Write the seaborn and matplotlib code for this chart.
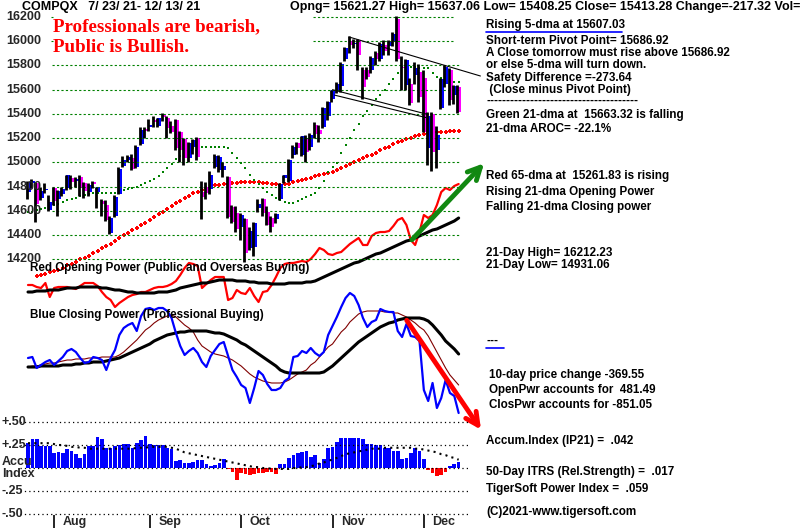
import numpy as np
import pandas as pd
import matplotlib
matplotlib.use("Agg")
import matplotlib.pyplot as plt
from matplotlib.lines import Line2D
import seaborn as sns

# ---- daily data (7/23/21 - 12/13/21, 100 sessions) ----
opens = [14760, 14830, 14830, 14705, 14770, 14610, 14790, 14700, 14740, 14790,
         14870, 14845, 14880, 14830, 14760, 14835, 14760, 14680, 14650, 14420,
         14560, 14740, 14970, 15020, 15040, 14960, 15150, 15270, 15290, 15350,
         15300, 15380, 15370, 15300, 15350, 15250, 15190, 15040, 15130, 15200,
         14760, 14800, 14780, 14960, 14940, 14940, 14880, 14630, 14580, 14470,
         14530, 14290, 14300, 14620, 14700, 14590, 14540, 14530, 14700, 14870,
         14850, 15060, 15160, 15060, 15200, 15130, 15310, 15270, 15290, 15380,
         15520, 15590, 15630, 15850, 16000, 15975, 16010, 15760, 15760, 15760,
         15900, 15850, 15970, 15960, 16000, 16180, 15790, 15640, 15650, 15720,
         15750, 15700, 15120, 15400, 15100, 15450, 15650, 15760, 15560, 15621]
highs = [14845, 14860, 14835, 14800, 14830, 14730, 14800, 14770, 14800, 14900,
         14900, 14880, 14900, 14840, 14830, 14850, 14800, 14700, 14690, 14560,
         14730, 14960, 15050, 15060, 15070, 15140, 15290, 15290, 15360, 15380,
         15370, 15405, 15380, 15340, 15360, 15260, 15200, 15170, 15190, 15210,
         14850, 14840, 14930, 15070, 15060, 15000, 14890, 14650, 14640, 14580,
         14540, 14470, 14510, 14700, 14710, 14640, 14560, 14580, 14830, 14900,
         15030, 15140, 15170, 15220, 15230, 15240, 15330, 15310, 15460, 15510,
         15600, 15660, 15830, 15950, 16040, 16020, 16020, 15790, 15790, 15880,
         15920, 15990, 16010, 16010, 16080, 16212, 15880, 15850, 15700, 15830,
         15810, 15760, 15420, 15420, 15300, 15700, 15800, 15780, 15640, 15637]
lows = [14700, 14790, 14510, 14690, 14750, 14600, 14650, 14560, 14720, 14770,
        14780, 14800, 14720, 14710, 14720, 14790, 14620, 14560, 14520, 14410,
        14550, 14740, 14960, 15000, 14940, 14950, 15140, 15200, 15260, 15290,
        15290, 15340, 15200, 15240, 15100, 15000, 14980, 15000, 15070, 15020,
        14530, 14700, 14740, 14950, 14920, 14880, 14540, 14500, 14430, 14360,
        14180, 14280, 14230, 14590, 14560, 14480, 14430, 14500, 14690, 14830,
        14840, 15040, 15070, 15050, 15000, 15100, 15200, 15170, 15280, 15350,
        15500, 15570, 15580, 15840, 15900, 15940, 15760, 15520, 15690, 15740,
        15800, 15840, 15890, 15890, 15960, 15840, 15600, 15600, 15470, 15650,
        15500, 15250, 14980, 14931, 14950, 15440, 15620, 15470, 15480, 15408]
closes = [14837, 14841, 14661, 14763, 14778, 14673, 14681, 14761, 14780, 14895,
          14836, 14860, 14788, 14765, 14816, 14823, 14794, 14656, 14526, 14542,
          14715, 14943, 15020, 15042, 14946, 15130, 15266, 15259, 15309, 15331,
          15364, 15374, 15287, 15248, 15115, 15106, 15038, 15162, 15182, 15044,
          14714, 14746, 14897, 15052, 15048, 14970, 14547, 14512, 14449, 14567,
          14255, 14434, 14502, 14654, 14580, 14486, 14466, 14572, 14823, 14897,
          15022, 15129, 15122, 15216, 15090, 15227, 15236, 15236, 15448, 15498,
          15596, 15650, 15812, 15940, 15972, 15982, 15887, 15623, 15704, 15861,
          15854, 15974, 15922, 15994, 16057, 15855, 15775, 15845, 15492, 15783,
          15538, 15254, 15381, 15085, 15225, 15687, 15787, 15517, 15631, 15413]
ma21 = [14590, 14595, 14605, 14615, 14625, 14635, 14650, 14660, 14675, 14690,
        14700, 14710, 14720, 14730, 14740, 14745, 14750, 14750, 14748, 14745,
        14750, 14760, 14770, 14780, 14790, 14800, 14815, 14830, 14845, 14865,
        14885, 14920, 14955, 14990, 15030, 15055, 15080, 15100, 15115, 15125,
        15130, 15130, 15130, 15130, 15130, 15130, 15120, 15080, 15040, 14995,
        14950, 14900, 14855, 14820, 14790, 14760, 14730, 14705, 14690, 14675,
        14665, 14665, 14680, 14700, 14715, 14730, 14745, 14790, 14850, 14920,
        14960, 14995, 15080, 15140, 15200, 15270, 15320, 15380, 15425, 15475,
        15520, 15555, 15600, 15645, 15690, 15740, 15790, 15795, 15790, 15785,
        15780, 15780, 15775, 15740, 15705, 15695, 15685, 15675, 15665, 15660]
ma65 = [np.nan, np.nan, 14060, 14070, 14080, 14095, 14105, 14115, 14130, 14150,
        14165, 14180, 14200, 14215, 14230, 14250, 14270, 14290, 14310, 14330,
        14350, 14375, 14400, 14420, 14440, 14460, 14480, 14500, 14525, 14550,
        14575, 14595, 14615, 14640, 14665, 14685, 14705, 14725, 14745, 14760,
        14775, 14790, 14800, 14810, 14815, 14820, 14825, 14830, 14830, 14835,
        14835, 14835, 14835, 14835, 14830, 14830, 14825, 14820, 14815, 14820,
        14825, 14835, 14845, 14855, 14865, 14875, 14885, 14895, 14905, 14915,
        14925, 14940, 14955, 14970, 14985, 15000, 15020, 15035, 15050, 15065,
        15080, 15100, 15115, 15130, 15150, 15165, 15180, 15195, 15205, 15215,
        15225, 15235, 15240, 15245, 15250, 15252, 15255, 15257, 15259, 15262]
open_power = [15, 15, 13, 12, 17, 3, 12, 13, 13, 13,
              12, 11, 14, 17, 17, 17, 14, 8, 3, 0,
              -7, -3, 0, 3, 5, 6, 8, 8, 10, 12,
              13, 13, 14, 16, 19, 25, 32, 37, 36, 34,
              12, 16, 20, 23, 23, 23, 0, 2, 10, 7,
              6, 12, 4, -2, 8, 9, 15, 23, 32, 36,
              37, 37, 38, 39, 38, 41, 46, 52, 50, 46,
              45, 47, 48, 52, 56, 59, 62, 55, 55, 64,
              67, 68, 68, 69, 74, 80, 82, 75, 60, 55,
              68, 85, 82, 85, 95, 108, 112, 110, 114, 116]
open_power_ma = [8, 8, 9, 9, 9, 10, 10, 10, 11, 12,
                 12, 12, 13, 13, 13, 13, 13, 12, 12, 11,
                 10, 10, 9, 8, 8, 7, 7, 7, 7, 7,
                 8, 8, 8, 9, 10, 12, 13, 14, 15, 16,
                 17, 17, 18, 19, 20, 20, 20, 20, 19, 19,
                 19, 18, 18, 17, 17, 17, 16, 16, 16, 16,
                 17, 17, 17, 17, 18, 18, 19, 21, 23, 25,
                 27, 29, 31, 33, 35, 37, 38, 40, 42, 44,
                 46, 47, 49, 51, 53, 55, 57, 59, 60, 62,
                 64, 66, 68, 70, 71, 73, 75, 77, 79, 82]
close_power = [2, 3, -8, -5, -2, 0, -5, -1, 3, 9,
               11, 8, 2, -3, -2, 3, 2, 0, -10, 2,
               10, 25, 32, 35, 37, 29, 44, 51, 52, 50,
               52, 52, 49, 42, 27, 14, 5, 9, 12, 7,
               -2, -7, 4, 10, 16, 18, 4, -10, -17, -25,
               -28, -43, -28, -11, -15, -24, -30, -30, -28, -21,
               -18, 3, 4, 9, 7, 12, 7, 4, 8, 25,
               34, 43, 53, 62, 67, 64, 55, 42, 33, 38,
               40, 51, 49, 48, 48, 29, 23, 36, 24, 23,
               19, -30, -41, -23, -48, -38, -20, -33, -36, -53]
close_power_ma = [-7, -7, -7, -6, -6, -6, -6, -6, -5, -5,
                  -5, -4, -4, -3, -3, -2, -2, -2, -1, 0,
                  1, 2, 4, 6, 8, 10, 12, 14, 16, 19,
                  21, 23, 25, 26, 27, 28, 28, 29, 29, 29,
                  29, 29, 28, 27, 27, 26, 24, 22, 20, 17,
                  15, 12, 9, 6, 3, 0, -3, -6, -10, -12,
                  -13, -13, -13, -13, -13, -13, -13, -13, -12, -9,
                  -6, -2, 2, 6, 10, 14, 18, 21, 24, 27,
                  30, 33, 35, 37, 38, 40, 41, 42, 42, 42,
                  42, 41, 39, 35, 30, 25, 19, 15, 11, 6]
close_power_fast = [-7, -6, -6, -5, -4, -3, -3, -2, -1, 0,
                    0, 1, 1, 1, 2, 2, 2, 3, 3, 3,
                    3, 5, 8, 12, 16, 20, 25, 30, 33, 37,
                    40, 42, 44, 45, 43, 39, 35, 32, 28, 20,
                    14, 11, 8, 6, 5, 4, 2, 0, -3, -6,
                    -10, -14, -17, -19, -21, -22, -23, -23, -23, -22,
                    -20, -17, -14, -12, -10, -5, -2, 3, 8, 13,
                    16, 22, 28, 32, 38, 42, 46, 48, 49, 49,
                    49, 49, 48, 48, 47, 47, 45, 43, 40, 37,
                    33, 30, 24, 16, 8, 0, -8, -15, -20, -25]
accum = [.27, .31, .32, .24, .24, .24, .16, .17, .16, .21,
         .18, .15, .11, .15, .24, .24, .34, .32, .22, .22,
         .24, .25, .26, .26, .22, .27, .30, .35, .26, .25,
         .25, .25, .22, .21, .08, .09, .05, .05, .07, .09,
         .09, .04, .02, .03, .05, .10, -.01, -.04, -.13, -.05,
         -.07, -.08, -.06, -.05, -.05, -.04, -.04, -.06, .04, .04,
         .11, .14, .16, .17, .18, .12, .14, .05, .10, .22,
         .23, .28, .33, .33, .33, .33, .33, .32, .26, .26,
         .25, .25, .22, .22, .18, .18, .10, .11, .16, .22,
         .18, .10, -.02, -.05, -.09, -.08, -.04, .02, .04, .07]
accum_ma = [.27, .27, .27, .27, .27, .27, .26, .25, .25, .24,
            .23, .23, .22, .22, .21, .21, .21, .21, .21, .21,
            .21, .21, .21, .21, .21, .22, .22, .22, .23, .23,
            .23, .23, .23, .22, .21, .19, .17, .16, .15, .14,
            .13, .12, .11, .10, .09, .08, .07, .06, .05, .04,
            .03, .02, .01, .01, .00, .00, -.01, -.01, -.01, -.01,
            -.01, .00, .00, .01, .01, .02, .03, .05, .06, .08,
            .09, .11, .13, .15, .16, .17, .18, .19, .20, .21,
            .21, .21, .22, .22, .22, .22, .22, .22, .22, .21,
            .21, .20, .19, .18, .17, .15, .14, .12, .11, .09]

month_names = ["Aug", "Sep", "Oct", "Nov", "Dec"]
month_start = [6, 28, 49, 70, 91]
price_levels = [16200, 16000, 15800, 15600, 15400, 15200, 15000, 14800, 14600, 14400, 14200]
accum_levels = [0.5, 0.25, 0.0, -0.25, -0.5]
accum_labels = ["+.50", "+.25", "", "-.25", "-.50"]

# hand-drawn trend lines and arrows (day index, value)
upper_channel = ([73.8, 104.0], [16035, 15713])
lower_channel_a = ([70.0, 92.0], [15600, 15395])
lower_channel_b = ([70.5, 91.5], [15555, 15370])
green_arrow = ((87.8, 14345), (105.3, 15010))
red_arrow = ((86.7, 42), (104.5, -72))

days = np.arange(len(closes))
df = pd.DataFrame({"day": days, "open": opens, "high": highs, "low": lows, "close": closes,
                   "ma21": ma21, "ma65": ma65, "op": open_power, "op_ma": open_power_ma,
                   "cp": close_power, "cp_ma": close_power_ma, "cp_fast": close_power_fast,
                   "accum": accum, "accum_ma": accum_ma})

sns.set_style("white")
plt.rcParams["font.family"] = ["Liberation Sans", "DejaVu Sans"]
plt.rcParams["font.weight"] = "bold"

W, H = 800, 528
fig = plt.figure(figsize=(8, 5.28), dpi=100)
fig.patch.set_facecolor("white")

XLIM = (-28 / 4.35, (W - 28) / 4.35)


def panel(ylim, z):
    a = fig.add_axes([0, 0, 1, 1], zorder=z)
    a.set_xlim(*XLIM)
    a.set_ylim(*ylim)
    a.patch.set_alpha(0)
    a.axis("off")
    return a


ax_op = panel((-228, 300), 1)
ax_cp = panel((-168, 360), 2)
ax_acc = panel((-0.652, 5.087), 3)
ax = panel((11984, 16340), 4)

# ---- price panel ----
ax.hlines(price_levels[2:], 5.5, 99.3, colors="#008000", linestyles=(0, (2, 2)), lw=0.8)
ax.hlines(price_levels[:2], 65.5, 97.7, colors="#008000", linestyles=(0, (2, 2)), lw=0.8)
ax.hlines(price_levels[:2], 5.3, 5.7, colors="#008000", lw=0.8)
for lv in price_levels:
    ax.text(-5.1, lv, str(lv), fontsize=9, fontweight="bold", va="center", ha="left")

sns.scatterplot(data=df, x="day", y="ma65", ax=ax, marker="P", s=9, color="#ff0000",
                linewidth=0, legend=False)
sns.scatterplot(data=df, x="day", y="ma21", ax=ax, marker="s", s=4, color="#008000",
                linewidth=0, legend=False)

body_lo = np.minimum(df["open"], df["close"])
body_h = np.maximum(np.abs(df["close"] - df["open"]), 14)
body_col = np.where(df["close"] >= df["open"], "#0000ff", "#ff00ff")
ax.vlines(df["day"] - 0.3, df["low"], df["high"], colors="black", lw=2.0)
ax.bar(df["day"] + 0.15, body_h, bottom=body_lo, width=0.92, color=body_col, linewidth=0)

for xs, ys in (upper_channel, lower_channel_a, lower_channel_b):
    ax.plot(xs, ys, color="black", lw=0.8)

ax.annotate("", xy=green_arrow[1], xytext=green_arrow[0],
            arrowprops=dict(arrowstyle="->,head_length=0.9,head_width=0.45",
                            color="#118811", lw=3.5))

# ---- opening power ----
sns.lineplot(data=df, x="day", y="op", ax=ax_op, color="#ff0000", lw=1.6)
sns.lineplot(data=df, x="day", y="op_ma", ax=ax_op, color="black", lw=2.2)

# ---- closing power ----
sns.lineplot(data=df, x="day", y="cp_fast", ax=ax_cp, color="#800000", lw=0.8)
sns.lineplot(data=df, x="day", y="cp_ma", ax=ax_cp, color="black", lw=2.2)
sns.lineplot(data=df, x="day", y="cp", ax=ax_cp, color="#0000ff", lw=1.6)
ax_cp.annotate("", xy=red_arrow[1], xytext=red_arrow[0],
               arrowprops=dict(arrowstyle="->,head_length=0.9,head_width=0.45",
                               color="#ff0000", lw=3.5))
for a in (ax_op, ax_cp):
    a.set_xlim(*XLIM)
    a.axis("off")

# ---- accumulation index ----
ax_acc.hlines(accum_levels, -1.8, 101.6, colors="black", linestyles=(0, (1, 2.5)), lw=0.9)
acc = np.array(accum)
ax_acc.bar(days, acc, width=0.85, color=np.where(acc >= 0, "#0000ff", "#ff0000"), linewidth=0)
ax_acc.plot(days, accum_ma, color="black", ls=(0, (1, 2)), lw=1.5)
for lv, lab in zip(accum_levels, accum_labels):
    ax_acc.text(-6.2, lv, lab, fontsize=9, fontweight="bold", va="center", ha="left")
ax_acc.text(-6.0, 0.07, "Accu", fontsize=9, fontweight="bold", va="center", ha="left")
ax_acc.text(-6.0, -0.06, "Index", fontsize=9, fontweight="bold", va="center", ha="left")
ax_acc.vlines(month_start, -0.652, -0.51, colors="black", lw=1.2)
for m, d in zip(month_names, month_start):
    ax_acc.text(d + 2.0, -0.585, m, fontsize=9, fontweight="bold", va="center", ha="left")
ax_acc.set_xlim(*XLIM)
ax_acc.axis("off")


# ---- text ----
def txt(x, y, s, size=8.4, color="black", **kw):
    fig.text(x / W, 1 - y / H, s, fontsize=size, color=color, fontweight="bold",
             va="center", ha="left", zorder=10, **kw)


txt(22, 7, "COMPQX   7/ 23/ 21- 12/ 13/ 21", size=9)
txt(290, 7, "Opng= 15621.27 High= 15637.06 Low= 15408.25 Close= 15413.28 Change=-217.32 Vol=", size=9)
fig.text(53 / W, 1 - 27 / H, "Professionals are bearish,", fontsize=13.7, color="#ff0000",
         fontweight="bold", family=["Liberation Serif"], va="center", zorder=10)
fig.text(53 / W, 1 - 48 / H, "Public is Bullish.", fontsize=13.7, color="#ff0000",
         fontweight="bold", family=["Liberation Serif"], va="center", zorder=10)
txt(30, 268, "Red Opening Power (Public and Overseas Buying)")
txt(30, 315, "Blue Closing Power (Professional Buying)")

right_lines = [
    (486, 25, "Rising 5-dma at 15607.03"),
    (486, 41, "Short-term Pivot Point= 15686.92"),
    (486, 53, "A Close tomorrow must rise above 15686.92"),
    (486, 65, "or else 5-dma will turn down."),
    (486, 78, "Safety Difference =-273.64"),
    (486, 90, " (Close minus Pivot Point)"),
    (486, 101, "-" * 38),
    (486, 115, "Green 21-dma at  15663.32 is falling"),
    (486, 129, "21-dma AROC= -22.1%"),
    (486, 176, "Red 65-dma at  15261.83 is rising"),
    (486, 192, "Rising 21-dma Opening Power"),
    (486, 207, "Falling 21-dma Closing power"),
    (486, 253, "21-Day High= 16212.23"),
    (486, 265, "21-Day Low= 14931.06"),
    (486, 341, "---"),
    (489, 375, "10-day price change -369.55"),
    (489, 390, "OpenPwr accounts for  481.49"),
    (489, 405, "ClosPwr accounts for -851.05"),
    (486, 441, "Accum.Index (IP21) =  .042"),
    (486, 472, "50-Day ITRS (Rel.Strength) =  .017"),
    (486, 489, "TigerSoft Power Index =  .059"),
    (486, 512, "(C)2021-www.tigersoft.com"),
]
for x, y, s in right_lines:
    txt(x, y, s)
fig.add_artist(Line2D([486 / W, 622 / W], [1 - 32 / H] * 2, color="#0000ff", lw=1.2))
fig.add_artist(Line2D([486 / W, 504 / W], [1 - 348 / H] * 2, color="#0000ff", lw=1.2))

fig.savefig("out.png", dpi=100, facecolor="white")
